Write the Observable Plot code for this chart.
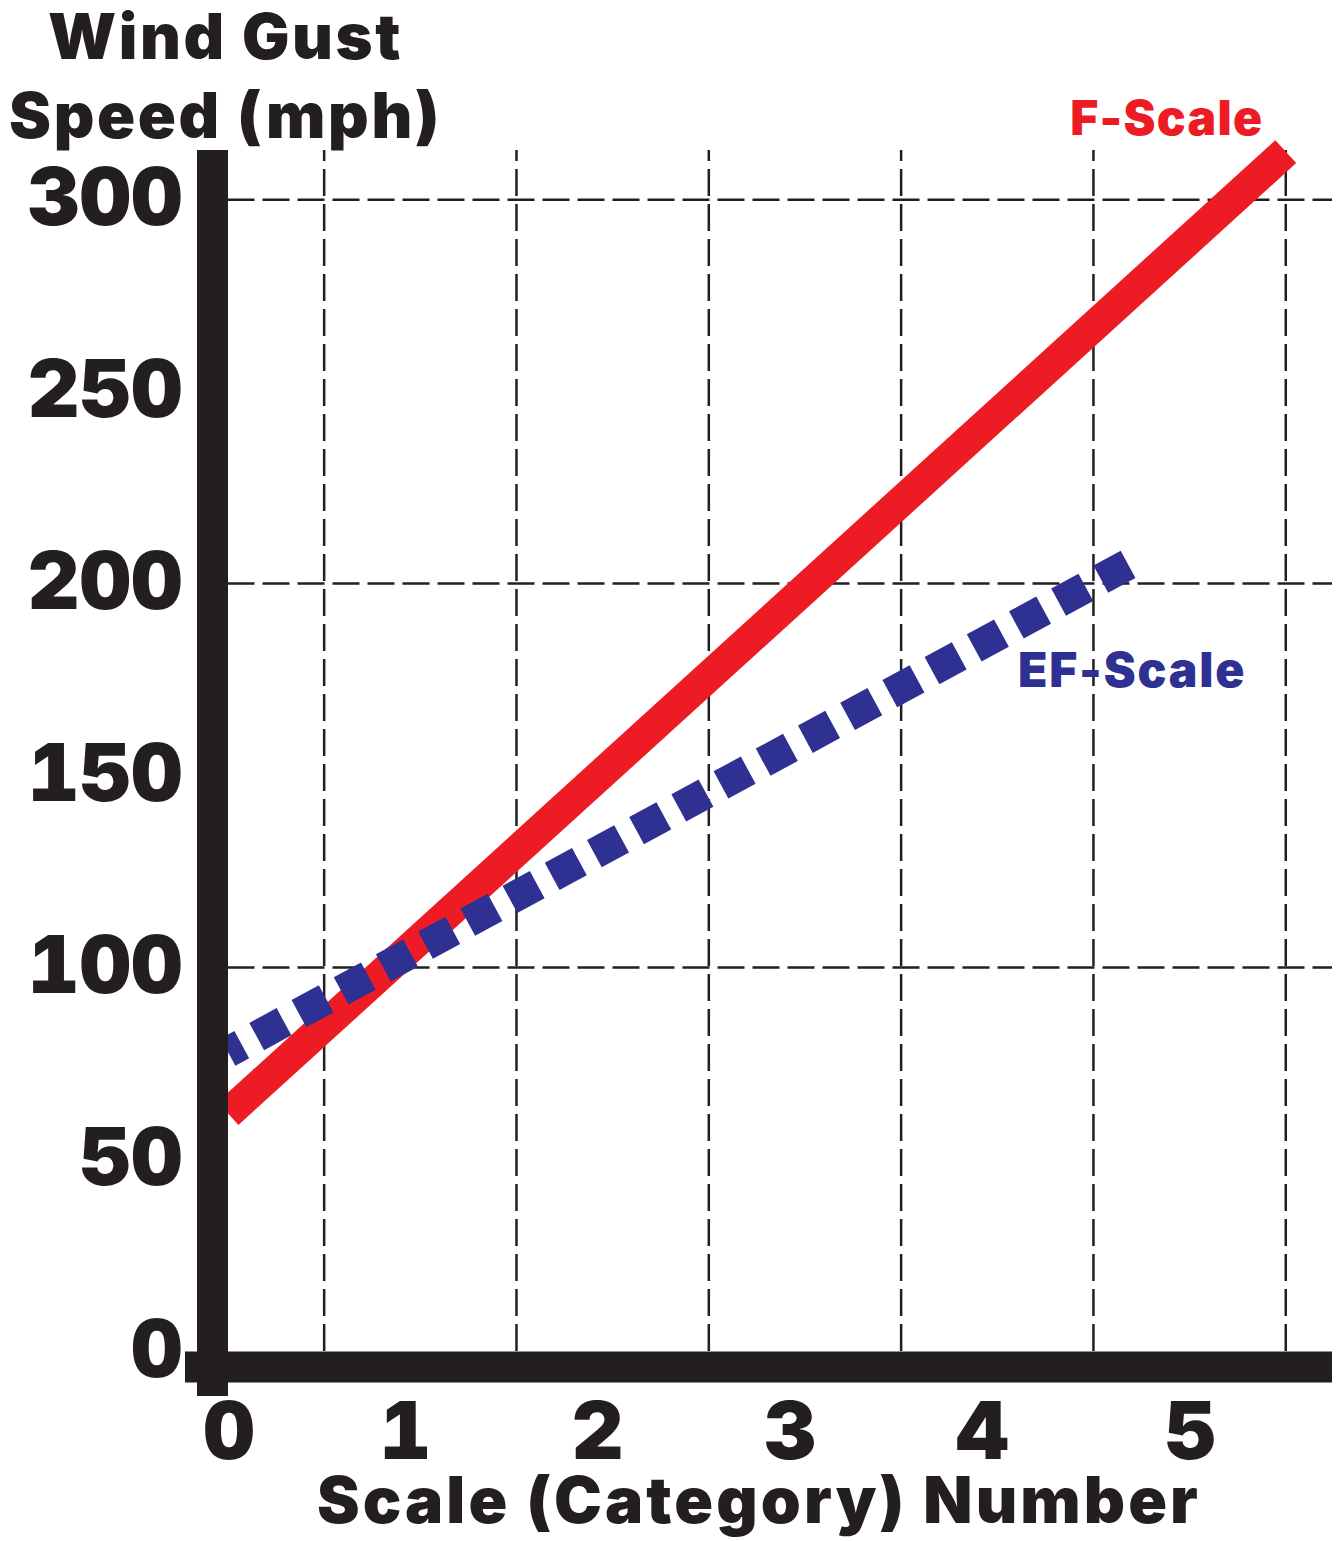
<!DOCTYPE html>
<html>
<head>
<meta charset="utf-8">
<script src="https://cdn.jsdelivr.net/npm/d3@7"></script>
<script src="https://cdn.jsdelivr.net/npm/@observablehq/plot@0.6"></script>
<style>
  html, body { margin: 0; padding: 0; background: #ffffff; }
  #chart svg { display: block; }
  [aria-label="chart-title"], [aria-label="chart-title"] tspan { letter-spacing: 2.6px; }
  [aria-label="x-title"] { letter-spacing: 3.1px; }
  [aria-label="f-label"] { letter-spacing: 1.3px; }
  [aria-label="ef-label"] { letter-spacing: 1.8px; }
</style>
</head>
<body>
<div id="chart"></div>
<script>
// ---- data ----
const categories = [0, 1, 2, 3, 4, 5];              // x tick labels
const speedTicks = [0, 50, 100, 150, 200, 250, 300]; // y tick labels
const gridSpeeds = [100, 200, 300];                  // horizontal dashed grid
const gridCategories = [0.5, 1.5, 2.5, 3.5, 4.5, 5.5]; // vertical dashed grid
const fScaleX = [0, 5.5];
const fScaleY = [62, 312.5];
const efScaleX = [0, 4.68];
const efScaleY = [78, 205];

const fScale = fScaleX.map((x, i) => ({x, y: fScaleY[i]}));
const efScale = efScaleX.map((x, i) => ({x, y: efScaleY[i]}));

const INK = "#231f20", RED = "#ed1c24", BLUE = "#2e3192";
const FONT = "Inter, 'Liberation Sans', Arial, sans-serif";
const xDomain = [-0.221, 5.743];
const yDomain = [-11.7, 312.8];

const edgeTicks = categories.filter(d => d === 0 || d === 5);
const innerTicks = categories.filter(d => d !== 0 && d !== 5);

const chart = Plot.plot({
  width: 1339,
  height: 1541,
  marginLeft: 185,
  marginRight: 7,
  marginTop: 150,
  marginBottom: 145,
  style: {fontFamily: FONT, color: INK, background: "#ffffff"},
  x: {domain: xDomain, axis: null},
  y: {domain: yDomain, axis: null},
  marks: [
    Plot.ruleY(gridSpeeds, {x1: 0, x2: xDomain[1], stroke: INK, strokeWidth: 2.5, strokeDasharray: "27,8"}),
    Plot.ruleX(gridCategories, {y1: 0, y2: yDomain[1], stroke: INK, strokeWidth: 2.5, strokeDasharray: "27,8"}),
    Plot.line(fScale, {x: "x", y: "y", stroke: RED, strokeWidth: 31, strokeLinecap: "butt"}),
    Plot.line(efScale, {x: "x", y: "y", stroke: BLUE, strokeWidth: 31, strokeLinecap: "butt", strokeDasharray: "31,17", reverse: true}),
    Plot.ruleX([0], {dx: -15.5, stroke: INK, strokeWidth: 31}),
    Plot.ruleY([0], {dy: 15.5, stroke: INK, strokeWidth: 31}),
    Plot.axisY({ticks: speedTicks, tickSize: 0, tickPadding: 3, fontSize: 80, fontWeight: 900, label: null, tickFormat: d => String(d)}),
    Plot.axisX({ticks: edgeTicks, tickSize: 0, tickPadding: 6, fontSize: 80, fontWeight: 900, label: null, tickFormat: d => String(d), dx: 1}),
    Plot.axisX({ticks: innerTicks, tickSize: 0, tickPadding: 6, fontSize: 80, fontWeight: 900, label: null, tickFormat: d => String(d), dx: -15}),
    Plot.text(["Wind Gust\nSpeed (mph)"], {ariaLabel: () => "chart-title", frameAnchor: "top-left", dx: 40, dy: -13, lineAnchor: "bottom", lineHeight: 1.25, textAnchor: "middle", fontSize: 63, fontWeight: 900, fill: INK}),
    Plot.text(["Scale (Category) Number"], {ariaLabel: () => "x-title", frameAnchor: "bottom", dy: 126, lineAnchor: "bottom", fontSize: 64, fontWeight: 900, fill: INK}),
    Plot.text(fScale.slice(-1), {ariaLabel: () => "f-label", x: "x", y: "y", text: () => "F-Scale", dx: -119, dy: -17, lineAnchor: "bottom", fontSize: 48, fontWeight: 900, fill: RED}),
    Plot.text(efScale.slice(-1), {ariaLabel: () => "ef-label", x: "x", y: "y", text: () => "EF-Scale", dx: 4, dy: 123, lineAnchor: "bottom", fontSize: 48, fontWeight: 900, fill: BLUE})
  ]
});
document.getElementById("chart").appendChild(chart);
</script>
</body>
</html>
